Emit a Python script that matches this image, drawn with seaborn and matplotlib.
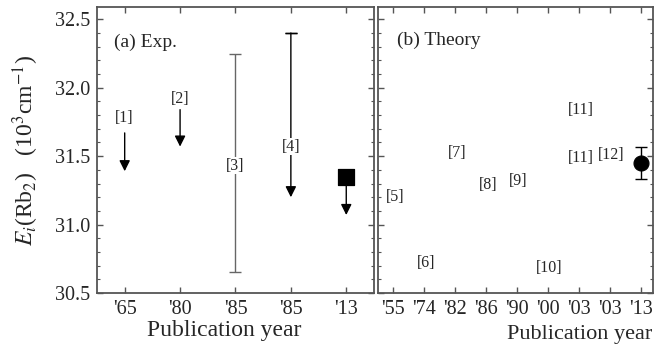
import matplotlib
matplotlib.use("Agg")
import matplotlib.pyplot as plt
from matplotlib.ticker import MultipleLocator
import pandas as pd
import seaborn as sns

# (a) experiment
exp_years = ["'65", "'80", "'85", "'85", "'13"]
exp_refs = ["[1]", "[2]", "[3]", "[4]", ""]
exp_top = [31.67, 31.84, 32.25, 32.40, 31.35]
exp_bottom = [31.39, 31.57, 30.65, 31.20, 31.07]
exp_ref_y = [31.78, 31.92, 31.43, 31.57, None]
exp_kind = ["arrow", "arrow", "bar", "cap_arrow", "arrow"]

# (b) theory
th_years = ["'55", "'74", "'82", "'86", "'90", "'00", "'03", "'03", "'13"]
th_refs = ["[5]", "[6]", "[7]", "[8]", "[9]", "[10]", "[11]", "[11]", "[12]"]
th_ref_pos = [0, 1, 2, 3, 4, 5, 6, 6, 7]
th_ref_y = [31.20, 30.72, 31.52, 31.29, 31.32, 30.68, 31.84, 31.49, 31.51]

# this work
this_exp = 31.35
this_th = 31.45
this_th_err = 0.12

sns.set_theme(style="ticks")
plt.rcParams["font.family"] = ["Liberation Serif", "DejaVu Serif"]
plt.rcParams["mathtext.fontset"] = "stix"

fig = plt.figure(figsize=(6.54, 3.51), dpi=100)
ax1 = fig.add_axes([0.1483, 0.1652, 0.4235, 0.8148])
ax2 = fig.add_axes([0.578, 0.1652, 0.4205, 0.8148])

spine_col = "#555555"
fs_tick = 14.5
fs_ref = 11.5

for ax in (ax1, ax2):
    ax.set_ylim(30.5, 32.59)
    ax.yaxis.set_major_locator(MultipleLocator(0.5))
    ax.yaxis.set_minor_locator(MultipleLocator(0.1))
    ax.tick_params(axis="both", which="both", direction="in", top=True, right=True,
                   color=spine_col, labelsize=fs_tick, pad=5)
    ax.tick_params(which="major", length=4, width=1)
    ax.tick_params(which="minor", length=2, width=0.8)
    ax.tick_params(axis="x", which="minor", top=False, bottom=False)
    for s in ax.spines.values():
        s.set_color(spine_col)
        s.set_linewidth(1.3)

# ---- panel (a)
xe = list(range(len(exp_years)))
ax1.set_xlim(-0.5, 4.5)
ax1.set_xticks(xe)
ax1.set_xticklabels(exp_years)
for i in xe:
    col = "black" if i in (0, 1, 3) else "#666666"
    if exp_kind[i] == "bar":
        mid = (exp_top[i] + exp_bottom[i]) / 2
        half = (exp_top[i] - exp_bottom[i]) / 2
        ax1.errorbar(i, mid, yerr=half, fmt="none", ecolor=col, elinewidth=1, capsize=4, zorder=2)
    else:
        if exp_kind[i] == "cap_arrow":
            ax1.errorbar(i, exp_top[i], yerr=0, fmt="none", ecolor=col, elinewidth=1, capsize=4, zorder=2)
        ax1.annotate("", xy=(i, exp_bottom[i]), xytext=(i, exp_top[i]),
                     arrowprops=dict(arrowstyle="-|>", color="black", lw=1,
                                     mutation_scale=16, shrinkA=0, shrinkB=0), zorder=2)
    if exp_ref_y[i] is not None:
        ax1.text(i, exp_ref_y[i], exp_refs[i], ha="center", va="center", fontsize=fs_ref,
                 bbox=dict(fc="white", ec="none", pad=0.5), zorder=3)

df_exp = pd.DataFrame({"x": [4], "y": [this_exp]})
sns.scatterplot(data=df_exp, x="x", y="y", marker="s", s=125, color="black",
                edgecolor="black", ax=ax1, zorder=4)
ax1.text(0.06, 0.875, "(a) Exp.", transform=ax1.transAxes, fontsize=14, va="center")
ax1.set_ylabel(r"$E_i$(Rb$_2$)   (10$^3$cm$^{-1}$)", fontsize=17, labelpad=10)
ax1.set_xlabel("Publication year", fontsize=17)
ax1.xaxis.set_label_coords(0.458, -0.094)

# ---- panel (b)
xt = list(range(len(th_years)))
ax2.set_xlim(-0.5, 8.4)
ax2.set_xticks(xt)
ax2.set_xticklabels(th_years)
ax2.tick_params(axis="y", labelleft=False)
for p, y, r in zip(th_ref_pos, th_ref_y, th_refs):
    ax2.text(p + 0.05, y, r, ha="center", va="center", fontsize=fs_ref, zorder=3)

ax2.errorbar(8, this_th, yerr=this_th_err, fmt="none", ecolor="black", elinewidth=1, capsize=4, zorder=2)
df_th = pd.DataFrame({"x": [8], "y": [this_th]})
sns.scatterplot(data=df_th, x="x", y="y", marker="o", s=115, color="black",
                edgecolor="black", ax=ax2, zorder=4)
ax2.text(0.07, 0.885, "(b) Theory", transform=ax2.transAxes, fontsize=14, va="center")
ax2.set_ylabel("")
ax2.set_xlabel("Publication year", fontsize=16)
ax2.xaxis.set_label_coords(0.732, -0.112)

fig.savefig("out.png", dpi=100)
